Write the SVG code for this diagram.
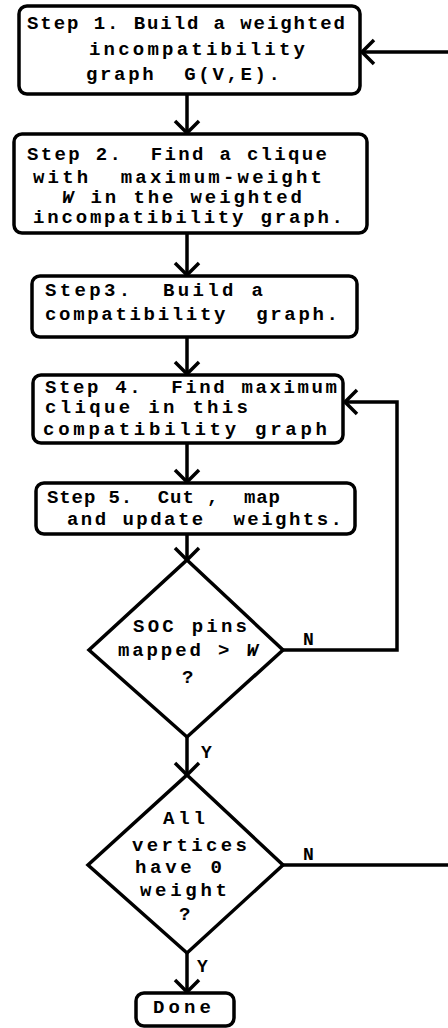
<svg xmlns="http://www.w3.org/2000/svg" width="448" height="1028" viewBox="0 0 448 1028">
  <style>
    .box { fill: #fff; stroke: #000; stroke-width: 3.5; }
    .dec { fill: #fff; stroke: #000; stroke-width: 3.5; stroke-linejoin: miter; }
    .edge { fill: none; stroke: #000; stroke-width: 3.5; }
    text { font-family: "Liberation Mono", "DejaVu Sans Mono", monospace; font-size: 19px; font-weight: bold; fill: #000; }
    .lbl { font-size: 18px; }
    .it { font-style: italic; }
  </style>
  <defs>
    <marker id="arr" viewBox="0 0 30 30" markerWidth="30" markerHeight="30" refX="15" refY="15" orient="auto" markerUnits="userSpaceOnUse">
      <path d="M3,3 L15,15 L3,27" fill="none" stroke="#000" stroke-width="3.5"/>
    </marker>
  </defs>

  <!-- connectors -->
  <g id="connectors">
    <path class="edge" d="M187,94 V133" marker-end="url(#arr)"/>
    <path class="edge" d="M187,233 V275" marker-end="url(#arr)"/>
    <path class="edge" d="M187,337 V374" marker-end="url(#arr)"/>
    <path class="edge" d="M187,443 V482" marker-end="url(#arr)"/>
    <path class="edge" d="M187,534 V560" marker-end="url(#arr)"/>
    <path class="edge" d="M187,737 V775" marker-end="url(#arr)"/>
    <path class="edge" d="M187,953 V992" marker-end="url(#arr)"/>
    <!-- N branch of first decision: back to step 4 -->
    <path class="edge" d="M283,650 H397 V402 H345" marker-end="url(#arr)"/>
    <!-- N branch of second decision: back to step 1 -->
    <path class="edge" d="M283,865 H453 V52 H362" marker-end="url(#arr)"/>
    <text class="lbl" x="303" y="645">N</text>
    <text class="lbl" x="201" y="758">Y</text>
    <text class="lbl" x="303" y="860">N</text>
    <text class="lbl" x="197" y="972">Y</text>
  </g>

  <g id="step1">
    <rect class="box" x="19" y="6" width="341" height="88" rx="8"/>
    <text x="27" y="29" textLength="318" lengthAdjust="spacing">Step 1. Build a weighted</text>
    <text x="89" y="55" textLength="216" lengthAdjust="spacing">incompatibility</text>
    <text x="86" y="80" textLength="194" lengthAdjust="spacing" xml:space="preserve">graph  G(V,E).</text>
  </g>

  <g id="step2">
    <rect class="box" x="14" y="134" width="353" height="99" rx="8"/>
    <text x="27" y="160" textLength="300" lengthAdjust="spacing" xml:space="preserve">Step 2.  Find a clique</text>
    <text x="33" y="183" textLength="289" lengthAdjust="spacing" xml:space="preserve">with  maximum-weight</text>
    <text x="62" y="203" textLength="240" lengthAdjust="spacing"><tspan class="it">W</tspan> in the weighted</text>
    <text x="33" y="223" textLength="310" lengthAdjust="spacing">incompatibility graph.</text>
  </g>

  <g id="step3">
    <rect class="box" x="32" y="276" width="325" height="61" rx="8"/>
    <text x="45" y="296" textLength="218" lengthAdjust="spacing" xml:space="preserve">Step3.  Build a</text>
    <text x="45" y="320" textLength="293" lengthAdjust="spacing" xml:space="preserve">compatibility  graph.</text>
  </g>

  <g id="step4">
    <rect class="box" x="33" y="375" width="310" height="68" rx="8"/>
    <text x="45" y="393" textLength="292" lengthAdjust="spacing" xml:space="preserve">Step 4.  Find maximum</text>
    <text x="45" y="413" textLength="203" lengthAdjust="spacing">clique in this</text>
    <text x="43" y="435" textLength="284" lengthAdjust="spacing">compatibility graph</text>
  </g>

  <g id="step5">
    <rect class="box" x="36" y="483" width="319" height="51" rx="8"/>
    <text x="47" y="503" textLength="233" lengthAdjust="spacing" xml:space="preserve">Step 5.  Cut ,  map</text>
    <text x="67" y="525" textLength="275" lengthAdjust="spacing" xml:space="preserve">and update  weights.</text>
  </g>

  <g id="check-pins">
    <polygon class="dec" points="187,560 283,650 187,737 89,650"/>
    <text x="133" y="632" textLength="114" lengthAdjust="spacing">SOC pins</text>
    <text x="118" y="656" textLength="140" lengthAdjust="spacing">mapped &gt; <tspan class="it">W</tspan></text>
    <text x="182" y="683">?</text>
  </g>

  <g id="check-weights">
    <polygon class="dec" points="187,775 283,865 187,953 88,865"/>
    <text x="163" y="824" textLength="42" lengthAdjust="spacing">All</text>
    <text x="132" y="851" textLength="115" lengthAdjust="spacing">vertices</text>
    <text x="135" y="873" textLength="87" lengthAdjust="spacing">have 0</text>
    <text x="140" y="896" textLength="87" lengthAdjust="spacing">weight</text>
    <text x="179" y="920">?</text>
  </g>

  <g id="done">
    <rect class="box" x="136" y="993" width="98" height="33" rx="8"/>
    <text x="153" y="1013" textLength="58" lengthAdjust="spacing">Done</text>
  </g>
</svg>
